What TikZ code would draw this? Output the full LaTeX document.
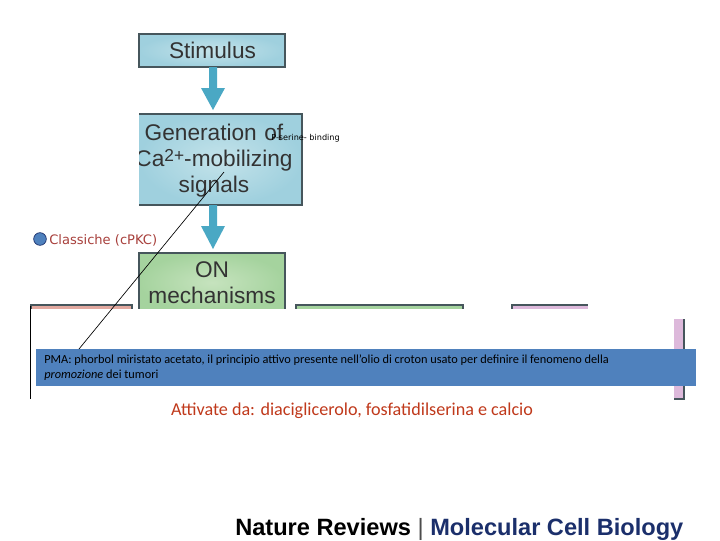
\documentclass[tikz,border=0pt]{standalone}
\usepackage{fontspec}
\setmainfont{Liberation Sans}
\newfontfamily\carl{Carlito}
\newfontfamily\comic{DejaVu Sans}
\usetikzlibrary{arrows.meta}
\definecolor{bluein}{HTML}{C4E3EA}
\definecolor{blueout}{HTML}{9FD0DE}
\definecolor{greenin}{HTML}{C6E3BE}
\definecolor{greenout}{HTML}{A5D39E}
\definecolor{arrowblue}{HTML}{4AA8C4}
\definecolor{edgegrey}{HTML}{46565C}
\definecolor{barblue}{HTML}{4F81BD}
\definecolor{rosebar}{HTML}{E2A9A0}
\definecolor{pinkbar}{HTML}{DDB9DB}
\definecolor{labelred}{HTML}{A8403C}
\definecolor{orangered}{HTML}{C0391B}
\definecolor{navy}{HTML}{1B2F6B}
\tikzset{
  x=0.75pt,y=-0.75pt,
  bluebox/.style={inner color=bluein,outer color=blueout},
  greenbox/.style={inner color=greenin,outer color=greenout},
  boxtext/.style={text=black!80,font=\fontsize{17}{19.5}\selectfont,align=center,inner sep=0pt},
  flow/.style={draw=none,fill=arrowblue},
  boxedge/.style={draw=edgegrey,line width=0.9pt},
  smalltext/.style={font=\carl\fontsize{9.25}{11}\selectfont,text=black,anchor=west,inner sep=0pt}
}
\begin{document}
\begin{tikzpicture}
\useasboundingbox (0,0) rectangle (720,540);
\fill[white] (0,0) rectangle (720,540);
% coloured boxes
\shade[bluebox] (139,34) rectangle (285,67);
\draw[boxedge] (139,34) rectangle (285,67);
\node[boxtext] (stimulus) at (212.5,50) {Stimulus};
\begin{scope}
\clip (139,112) rectangle (304,207);
\shade[bluebox] (139,114) rectangle (302,205);
\draw[boxedge] (139,114) -- (302,114) -- (302,205) -- (139,205);
\node[boxtext,text width=200pt] (generation) at (214,160.5) {Generation of\\Ca\raisebox{0.4ex}{\fontsize{13}{13}\selectfont 2+}-mobilizing\\signals};
\end{scope}
\shade[greenbox] (139,253) rectangle (285,312);
\draw[boxedge] (139,312) -- (139,253) -- (285,253) -- (285,312);
\node[boxtext] (on) at (212,283) {ON\\mechanisms};
\fill[rosebar] (31,305) rectangle (132,312);
\draw[boxedge] (31,312) -- (31,305) -- (132,305) -- (132,312);
\fill[greenout] (296,305) rectangle (463,312);
\draw[boxedge] (296,312) -- (296,305) -- (463,305) -- (463,312);
\fill[pinkbar] (512,305) rectangle (588,312);
\draw[boxedge] (512,312) -- (512,305) -- (588,305);
% flow arrows
\fill[flow] (209,67) -- (217,67) -- (217,88) -- (225,88) -- (213,110) -- (201,88) -- (209,88) -- cycle;
\fill[flow] (209,205) -- (217,205) -- (217,226) -- (225,226) -- (213,249) -- (201,226) -- (209,226) -- cycle;
% white cover
\fill[white] (28,309) rectangle (700,400);
\fill[pinkbar] (674,319) rectangle (684,399);
\draw[edgegrey,line width=0.9pt] (684,319) -- (684,399) -- (674,399);
% black line on the left
\coordinate (lefttop) at (30.5,306);
\coordinate (leftbottom) at (30.5,399);
\draw[black,line width=0.7pt] (lefttop) -- (leftbottom);
% blue bar
\node[draw=none,fill=barblue,minimum width=495pt,minimum height=27.75pt,inner sep=0pt,anchor=north west] (pma) at (36,349) {};
\node[smalltext] (pmaone) at (44,360) {PMA: phorbol miristato acetato, il principio attivo presente nell’olio di croton usato per definire il fenomeno della};
\node[smalltext] (pmatwo) at (44,375) {\textit{promozione} dei tumori};
% callout
\coordinate (calloutend) at (224,172);
\coordinate (calloutfoot) at (79,349);
\draw[black,line width=0.5pt] (calloutend) -- (calloutfoot);
\node[font=\comic\fontsize{6.1}{7}\selectfont,anchor=west,inner sep=0pt] (pserine) at (271,138) {P-serine- binding};
% label with bullet
\node[circle,fill=barblue,draw=navy,line width=0.5pt,minimum size=9.5pt,inner sep=0pt] (bullet) at (40,239) {};
\node[font=\comic\fontsize{9.8}{12}\selectfont,text=labelred,anchor=west,inner sep=0pt] (classiche) at (49,240) {Classiche (cPKC)};
% activators
\node[font=\carl\fontsize{13.6}{16}\selectfont,text=orangered,inner sep=0pt] (attivate) at (352,411) {Attivate da: diaciglicerolo, fosfatidilserina e calcio};
% journal line
\node[font=\bfseries\fontsize{17.7}{20}\selectfont,anchor=west,inner sep=0pt] (journal) at (235,529) {Nature Reviews {\mdseries\textcolor{black!70}{|}} \textcolor{navy}{Molecular Cell Biology}};
\end{tikzpicture}
\end{document}
